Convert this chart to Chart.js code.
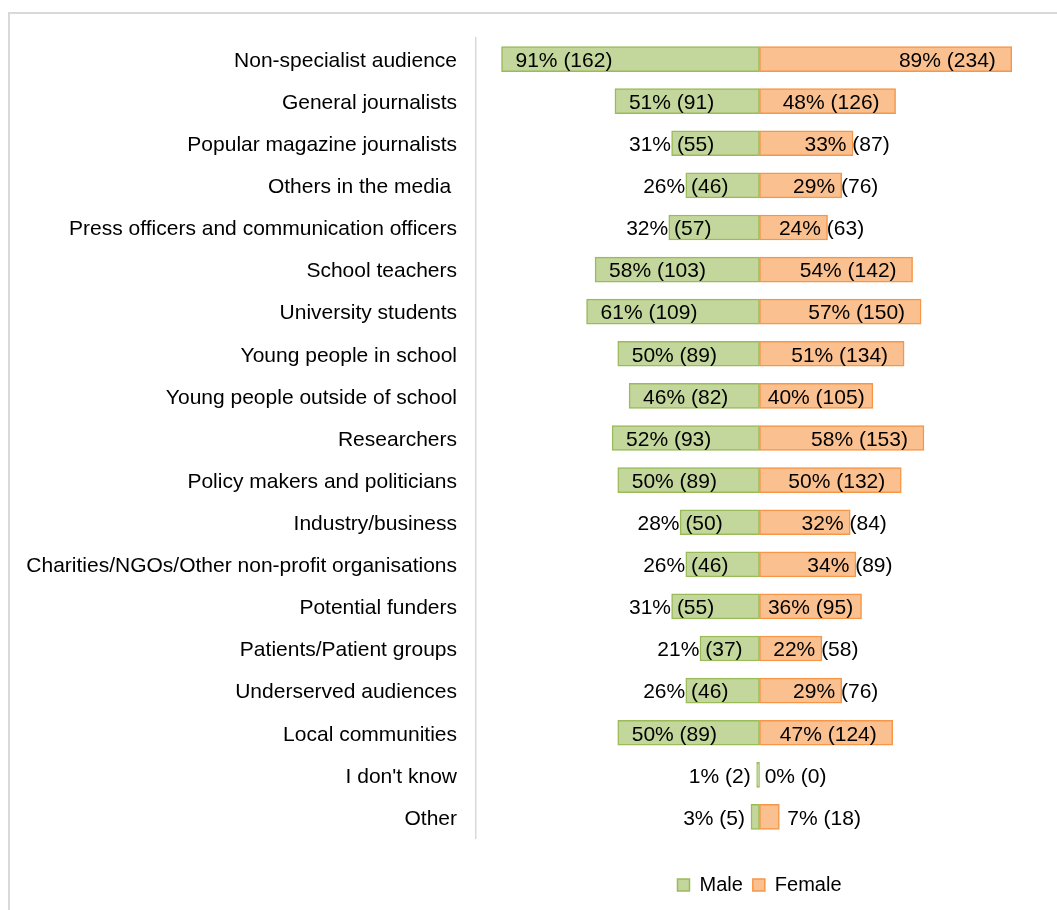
<!DOCTYPE html>
<html>
<head>
<meta charset="utf-8">
<script src="https://cdn.jsdelivr.net/npm/chart.js@4.4.1/dist/chart.umd.min.js"></script>
<style>
  body { margin: 0; background: #fff; overflow: hidden; }
  #frame { position: absolute; left: 8px; top: 12px; width: 1200px; height: 1000px; border: 2px solid #d9d9d9; }
  #wrap { position: absolute; left: 0; top: 0; width: 1057px; height: 910px; }
</style>
</head>
<body>
<div id="frame"></div>
<div id="wrap"><canvas id="chart"></canvas></div>
<script>
var categories = [
  'Non-specialist audience', 'General journalists', 'Popular magazine journalists',
  'Others in the media ', 'Press officers and communication officers', 'School teachers',
  'University students', 'Young people in school', 'Young people outside of school',
  'Researchers', 'Policy makers and politicians', 'Industry/business',
  'Charities/NGOs/Other non-profit organisations', 'Potential funders',
  'Patients/Patient groups', 'Underserved audiences', 'Local communities',
  "I don't know", 'Other'
];
var malePct = [91, 51, 31, 26, 32, 58, 61, 50, 46, 52, 50, 28, 26, 31, 21, 26, 50, 1, 3];
var maleCount = [162, 91, 55, 46, 57, 103, 109, 89, 82, 93, 89, 50, 46, 55, 37, 46, 89, 2, 5];
var femalePct = [89, 48, 33, 29, 24, 54, 57, 51, 40, 58, 50, 32, 34, 36, 22, 29, 47, 0, 7];
var femaleCount = [234, 126, 87, 76, 63, 142, 150, 134, 105, 153, 132, 84, 89, 95, 58, 76, 124, 0, 18];

var fontFamily = '"Liberation Sans", Arial, sans-serif';

// labels next to / inside each bar, placed roughly like the Excel original
var barLabels = {
  id: 'barLabels',
  afterDatasetsDraw: function (chart) {
    var ctx = chart.ctx;
    ctx.save();
    ctx.font = '21px ' + fontFamily;
    ctx.fillStyle = '#000';
    ctx.textBaseline = 'middle';
    chart.data.datasets.forEach(function (ds, di) {
      var meta = chart.getDatasetMeta(di);
      var pct = di === 0 ? malePct : femalePct;
      var cnt = di === 0 ? maleCount : femaleCount;
      meta.data.forEach(function (bar, i) {
        var text = pct[i] + '% (' + cnt[i] + ')';
        var w = ctx.measureText(text).width;
        var len = Math.abs(bar.x - bar.base);
        var x, align;
        if (di === 0) {
          if (len >= w + 28) { x = bar.x + 14; align = 'left'; }
          else if (len >= w + 6) { x = (bar.x + bar.base) / 2; align = 'center'; }
          else if (len >= 30) { x = bar.x; align = 'center'; }
          else { x = bar.x - 6; align = 'right'; }
        } else {
          if (len >= w + 30) { x = bar.x - 16; align = 'right'; }
          else if (len >= w + 12) { x = (bar.x + bar.base) / 2; align = 'center'; }
          else if (len >= 30) { x = bar.x - 6; align = 'center'; }
          else { x = bar.x + 8; align = 'left'; }
        }
        ctx.textAlign = align;
        ctx.fillText(text, x, bar.y + 2);
      });
    });
    ctx.restore();
  }
};

new Chart(document.getElementById('chart'), {
  type: 'bar',
  data: {
    labels: categories,
    datasets: [
      {
        label: 'Male',
        data: malePct.map(function (v) { return -v; }),
        backgroundColor: '#c3d69b',
        borderColor: '#9bbb59',
        borderWidth: 1.5,
        borderSkipped: false,
        barThickness: 25
      },
      {
        label: 'Female',
        data: femalePct,
        backgroundColor: '#fac090',
        borderColor: '#f79646',
        borderWidth: 1.5,
        borderSkipped: false,
        barThickness: 25
      }
    ]
  },
  options: {
    indexAxis: 'y',
    responsive: true,
    maintainAspectRatio: false,
    animation: false,
    layout: { padding: { top: 38, right: 14, bottom: 5, left: 0 } },
    scales: {
      x: {
        stacked: true,
        min: -100,
        max: 100,
        grid: { display: false, drawTicks: false },
        border: { display: false },
        ticks: { display: false },
        afterFit: function (scale) { scale.height = 27; }
      },
      y: {
        stacked: true,
        grid: { display: false, drawTicks: false },
        border: { display: true, color: '#d9d9d9', width: 1.5 },
        ticks: { padding: 19, labelOffset: 2, color: '#000', font: { size: 21, family: fontFamily } },
        afterFit: function (scale) { scale.width = 476; }
      }
    },
    plugins: {
      tooltip: { enabled: false },
      legend: {
        position: 'bottom',
        fullSize: false,
        labels: {
          boxWidth: 12,
          boxHeight: 12,
          padding: 10,
          color: '#000',
          font: { size: 20, family: fontFamily }
        }
      }
    }
  },
  plugins: [barLabels]
});
</script>
</body>
</html>
